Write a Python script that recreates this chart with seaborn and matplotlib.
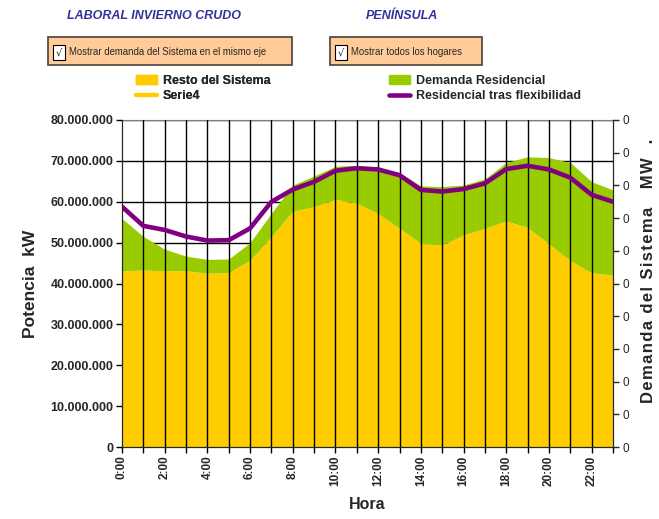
import numpy as np
import pandas as pd
import matplotlib
matplotlib.use("Agg")
import matplotlib.pyplot as plt
import matplotlib.patches as mpatches
from matplotlib.lines import Line2D
from matplotlib.ticker import FuncFormatter
import seaborn as sns

# Datos (millones de kW)
horas = list(range(24))
etiquetas_hora = [f"{h}:00" for h in horas]
resto_sistema = [43.1, 43.3, 43.1, 43.1, 42.5, 42.7, 45.7, 51.5, 57.7, 58.8, 60.6, 59.6,
                 57.1, 53.5, 49.8, 49.4, 51.9, 53.5, 55.3, 53.7, 49.7, 45.6, 42.6, 42.1]
demanda_residencial = [12.8, 8.2, 5.3, 3.6, 3.4, 3.3, 4.3, 5.7, 6.4, 7.5, 8.1, 9.3,
                       11.3, 13.6, 14.1, 14.3, 12.2, 12.1, 14.3, 17.3, 21.1, 24.0, 22.3, 20.8]
tras_flexibilidad = [58.8, 54.1, 53.1, 51.5, 50.5, 50.6, 53.5, 60.0, 63.0, 64.9, 67.6, 68.2,
                     67.9, 66.5, 62.9, 62.5, 63.1, 64.5, 68.0, 68.8, 67.9, 65.9, 61.7, 60.0]

df = pd.DataFrame({
    "hora": horas,
    "resto": np.array(resto_sistema) * 1e6,
    "residencial": np.array(demanda_residencial) * 1e6,
    "flex": np.array(tras_flexibilidad) * 1e6,
})

AMARILLO = "#FFCC00"
VERDE = "#99CC00"
MORADO = "#800080"
AZUL_TITULO = "#333399"

sns.set_style("ticks")
plt.rcParams["font.family"] = ["Liberation Sans", "DejaVu Sans"]

fig = plt.figure(figsize=(6.59, 5.19), dpi=100)
ax = fig.add_axes([122 / 659, 1 - 447 / 519, (613 - 122) / 659, (447 - 120) / 519])

ax.stackplot(df["hora"], df["resto"], df["residencial"],
             colors=[AMARILLO, VERDE], zorder=2, linewidth=0)
for h in horas[1:-1]:
    ax.axvline(h, color="black", lw=1, zorder=3)
sns.lineplot(data=df, x="hora", y="flex", color=MORADO, lw=3.3, ax=ax, zorder=4)

ax.set_xlim(0, 23)
ax.set_ylim(0, 80e6)
ax.set_yticks(np.arange(0, 80e6 + 1, 10e6))
ax.yaxis.set_major_formatter(FuncFormatter(lambda v, p: f"{int(v):,}".replace(",", ".")))
ax.set_axisbelow(True)
ax.yaxis.grid(True, color="black", lw=1)
ax.set_xticks(horas)
ax.set_xticklabels([t if h % 2 == 0 else "" for h, t in zip(horas, etiquetas_hora)],
                   rotation=90, fontsize=8.5, fontweight="bold")
for lab in ax.get_yticklabels():
    lab.set_fontweight("bold")
    lab.set_fontsize(9)
ax.tick_params(axis="both", direction="out", length=4, width=1, color="black", pad=2)
ax.set_xlabel("Hora", fontsize=11.5, fontweight="bold", labelpad=8)
ax.set_ylabel("Potencia  kW", fontsize=12.5, fontweight="bold", labelpad=9)
for s in ["left", "bottom", "right"]:
    ax.spines[s].set_color("black")
ax.spines["top"].set_color("#808080")

# eje secundario (demanda del sistema)
ax2 = ax.twinx()
ax2.set_ylim(0, 1)
ax2.set_yticks(np.linspace(0, 1, 11))
ax2.set_yticklabels(["0"] * 11, fontsize=8.5)
ax2.tick_params(axis="y", direction="out", length=4, width=1, pad=3)
ax2.spines["top"].set_visible(False)
espaciado = "\u200a".join("Demanda del Sistema") + "    " + "\u200a".join("MW") + "   ."
ax2.set_ylabel(espaciado, fontsize=12, fontweight="bold")
ax2.yaxis.set_label_coords(1.058, 0.54)

# títulos
fig.text(67 / 659, 1 - 16 / 519, "LABORAL INVIERNO CRUDO", fontsize=9,
         fontweight="bold", style="italic", color=AZUL_TITULO, va="center", ha="left")
fig.text(366 / 659, 1 - 16 / 519, "PENÍNSULA", fontsize=9,
         fontweight="bold", style="italic", color=AZUL_TITULO, va="center", ha="left")

# casillas
def casilla(x0, x1, texto):
    y0, y1 = 37, 65
    fig.add_artist(mpatches.Rectangle((x0 / 659, 1 - y1 / 519), (x1 - x0) / 659, (y1 - y0) / 519,
                                      transform=fig.transFigure, facecolor="#FFCC99",
                                      edgecolor="#4d4036", lw=1.2))
    fig.add_artist(mpatches.Rectangle(((x0 + 5) / 659, 1 - 60 / 519), 12 / 659, 15 / 519,
                                      transform=fig.transFigure, facecolor="white",
                                      edgecolor="black", lw=0.8))
    fig.text((x0 + 11) / 659, 1 - 52 / 519, "√", fontsize=7, ha="center", va="center",
             family=["DejaVu Sans"])
    fig.text((x0 + 21) / 659, 1 - 52 / 519, texto, fontsize=6.9,
             ha="left", va="center")

casilla(48, 292, "Mostrar demanda del Sistema en el mismo eje")
casilla(330, 482, "Mostrar todos los hogares")

# leyenda
h_resto = mpatches.Patch(color=AMARILLO, label="Resto del Sistema")
h_serie4 = Line2D([], [], color=AMARILLO, lw=3, label="Serie4")
h_res = mpatches.Patch(color=VERDE, label="Demanda Residencial")
h_flex = Line2D([], [], color=MORADO, lw=3.3, label="Residencial tras flexibilidad")
kw = dict(frameon=False, loc="upper left", prop={"weight": "bold", "size": 9},
          handlelength=1.7, handletextpad=0.45, labelspacing=0.25, borderaxespad=0,
          borderpad=0, handleheight=0.72)
leg1 = fig.legend(handles=[h_resto, h_serie4], bbox_to_anchor=(136 / 659, 1 - 75 / 519), **kw)
fig.add_artist(leg1)
fig.legend(handles=[h_res, h_flex], bbox_to_anchor=(389 / 659, 1 - 75 / 519), **kw)

fig.savefig("out.png", dpi=100)
